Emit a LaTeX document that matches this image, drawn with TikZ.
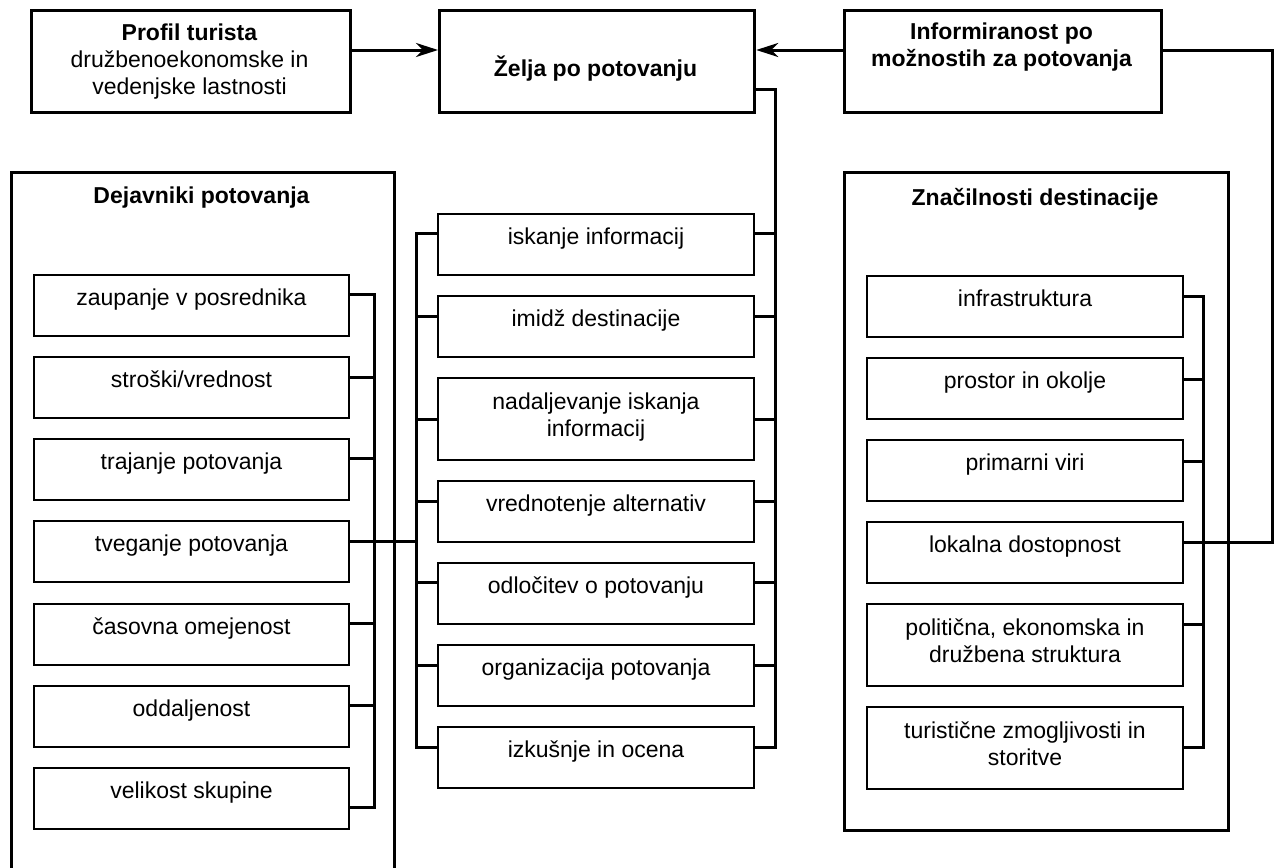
\documentclass[tikz,border=0pt]{standalone}
\usepackage{fontspec}
\setmainfont{Liberation Sans}
\usetikzlibrary{arrows.meta}

\tikzset{
  frame/.style={draw, line width=3.2pt, inner sep=0pt, anchor=north west},
  itembox/.style={draw, line width=2pt, inner sep=0pt, anchor=north west,
                  minimum width=316pt, minimum height=61pt},
  tallbox/.style={itembox, minimum height=82pt},
  lab/.style={inner sep=0pt, align=center, font=\fontsize{23}{27}\selectfont,
              execute at begin node=\strut, execute at end node=\strut},
  head/.style={lab, font=\fontsize{23}{27}\selectfont\bfseries},
  link/.style={line width=3pt},
  arr/.style={line width=3pt, -{Stealth[length=22pt,width=14pt,inset=7pt]}},
}

\begin{document}
\begin{tikzpicture}[x=1pt,y=-1pt]
\useasboundingbox[fill=white] (0,0) rectangle (1278,868);

% ---- top row ----
\node[frame, minimum width=319pt, minimum height=102pt] (profil) at (30,9) {};
\node[lab] (profil-t) at (189.5,63.3) {\textbf{Profil turista}\\družbenoekonomske in\\vedenjske lastnosti};

\node[frame, minimum width=315pt, minimum height=102pt] (zelja) at (438,9) {};
\node[head] (zelja-t) at (595.5,70.6) {Želja po potovanju};

\node[frame, minimum width=317pt, minimum height=102pt] (info) at (843,9) {};
\node[head] (info-t) at (1001.5,49.1) {Informiranost po\\možnostih za potovanja};

% ---- group frames ----
\node[frame, minimum width=383pt, minimum height=730pt] (dej) at (10,171) {};
\node[head] (dej-t) at (201.5,197.6) {Dejavniki potovanja};

\node[frame, minimum width=384pt, minimum height=658pt] (zna) at (843,171) {};
\node[head] (zna-t) at (1035,199.6) {Značilnosti destinacije};

% ---- travel factors ----
\node[itembox, minimum width=315pt] (d1) at (33,274) {};
\node[itembox, minimum width=315pt] (d2) at (33,356) {};
\node[itembox, minimum width=315pt] (d3) at (33,438) {};
\node[itembox, minimum width=315pt] (d4) at (33,520) {};
\node[itembox, minimum width=315pt] (d5) at (33,603) {};
\node[itembox, minimum width=315pt] (d6) at (33,685) {};
\node[itembox, minimum width=315pt] (d7) at (33,767) {};
\node[lab] (d1-t) at ([yshift=-25.6pt]d1.north) {zaupanje v posrednika};
\node[lab] (d2-t) at ([yshift=-25.6pt]d2.north) {stroški/vrednost};
\node[lab] (d3-t) at ([yshift=-25.6pt]d3.north) {trajanje potovanja};
\node[lab] (d4-t) at ([yshift=-25.6pt]d4.north) {tveganje potovanja};
\node[lab] (d5-t) at ([yshift=-25.6pt]d5.north) {časovna omejenost};
\node[lab] (d6-t) at ([yshift=-25.6pt]d6.north) {oddaljenost};
\node[lab] (d7-t) at ([yshift=-25.6pt]d7.north) {velikost skupine};

% ---- decision process ----
\node[itembox] (m1) at (437,213) {};
\node[itembox] (m2) at (437,295) {};
\node[tallbox] (m3) at (437,377) {};
\node[itembox] (m4) at (437,480) {};
\node[itembox] (m5) at (437,562) {};
\node[itembox] (m6) at (437,644) {};
\node[itembox] (m7) at (437,726) {};
\node[lab] (m1-t) at ([yshift=-25.6pt]m1.north) {iskanje informacij};
\node[lab] (m2-t) at ([yshift=-25.6pt]m2.north) {imidž destinacije};
\node[lab] (m3-t) at (m3.center) {nadaljevanje iskanja\\informacij};
\node[lab] (m4-t) at ([yshift=-25.6pt]m4.north) {vrednotenje alternativ};
\node[lab] (m5-t) at ([yshift=-25.6pt]m5.north) {odločitev o potovanju};
\node[lab] (m6-t) at ([yshift=-25.6pt]m6.north) {organizacija potovanja};
\node[lab] (m7-t) at ([yshift=-25.6pt]m7.north) {izkušnje in ocena};

% ---- destination features ----
\node[itembox] (r1) at (866,275) {};
\node[itembox] (r2) at (866,357) {};
\node[itembox] (r3) at (866,439) {};
\node[itembox] (r4) at (866,521) {};
\node[tallbox] (r5) at (866,603) {};
\node[tallbox] (r6) at (866,706) {};
\node[lab] (r1-t) at ([yshift=-25.6pt]r1.north) {infrastruktura};
\node[lab] (r2-t) at ([yshift=-25.6pt]r2.north) {prostor in okolje};
\node[lab] (r3-t) at ([yshift=-25.6pt]r3.north) {primarni viri};
\node[lab] (r4-t) at ([yshift=-25.6pt]r4.north) {lokalna dostopnost};
\node[lab] (r5-t) at (r5.center) {politična, ekonomska in\\družbena struktura};
\node[lab] (r6-t) at (r6.center) {turistične zmogljivosti in\\storitve};

% ---- bracket spines ----
\coordinate (lsp1) at (374,294);
\coordinate (lsp2) at (374,377);
\coordinate (lsp3) at (374,458);
\coordinate (lsp5) at (374,623);
\coordinate (lsp6) at (374,705);
\coordinate (lsp7) at (374,807);

\coordinate (msp1) at (416,233);
\coordinate (msp2) at (416,316);
\coordinate (msp3) at (416,419);
\coordinate (msp4) at (416,501);
\coordinate (msp5) at (416,582);
\coordinate (msp6) at (416,665);
\coordinate (msp7) at (416,747);
\coordinate (feed) at (416,541);

\coordinate (zr)   at (775,89);
\coordinate (mrs1) at (775,233);
\coordinate (mrs2) at (775,316);
\coordinate (mrs3) at (775,419);
\coordinate (mrs4) at (775,501);
\coordinate (mrs5) at (775,582);
\coordinate (mrs6) at (775,665);
\coordinate (mrs7) at (775,747);

\coordinate (rsp1) at (1203,296);
\coordinate (rsp2) at (1203,379);
\coordinate (rsp3) at (1203,461);
\coordinate (rsp5) at (1203,624);
\coordinate (rsp6) at (1203,747);

\coordinate (ic1) at (1272,50);
\coordinate (ic2) at (1272,542);
\coordinate (ay)  at (0,50);

% travel factors -> process
\draw[link] (d1.east |- lsp1) -- (lsp1) -- (lsp7) -- (d7.east |- lsp7);
\foreach \k in {2,3,5,6} \draw[link] (d\k.east |- lsp\k) -- (lsp\k);
\draw[link] (d4.east |- feed) -- (feed);

% process, left side
\draw[link] (m1.west |- msp1) -- (msp1) -- (msp7) -- (m7.west |- msp7);
\foreach \k in {2,...,6} \draw[link] (m\k.west |- msp\k) -- (msp\k);

% process, right side up to the wish box
\draw[link] (zelja.east |- zr) -- (zr) -- (mrs7) -- (m7.east |- mrs7);
\foreach \k in {1,...,6} \draw[link] (m\k.east |- mrs\k) -- (mrs\k);

% destination features
\draw[link] (r1.east |- rsp1) -- (rsp1) -- (rsp6) -- (r6.east |- rsp6);
\foreach \k in {2,3,5} \draw[link] (r\k.east |- rsp\k) -- (rsp\k);
\draw[link] (info.east |- ic1) -- (ic1) -- (ic2) -- (r4.east |- ic2);

% arrows into the wish box
\draw[arr] (profil.east |- ay) -- (zelja.west |- ay);
\draw[arr] (info.west |- ay) -- (zelja.east |- ay);
\end{tikzpicture}
\end{document}
